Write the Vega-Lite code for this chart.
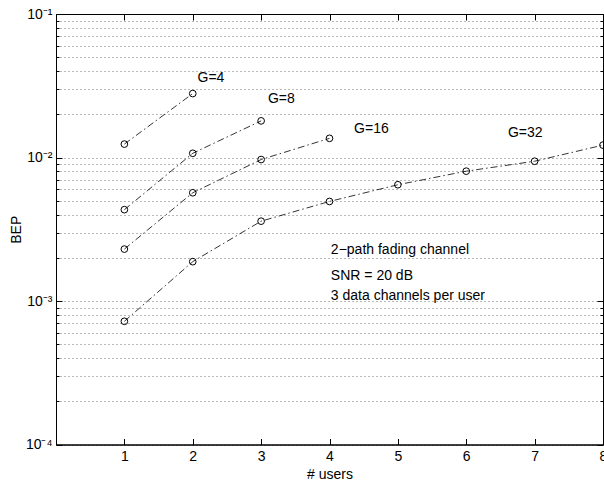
{
  "$schema": "https://vega.github.io/schema/vega-lite/v6.json",
  "width": 547,
  "height": 430.5,
  "autosize": "none",
  "padding": {"left": 56, "top": 14, "right": 1, "bottom": 39.5},
  "background": "white",
  "config": {
    "font": "Liberation Sans",
    "view": {"stroke": "black", "strokeWidth": 1},
    "axis": {
      "domainColor": "black",
      "tickColor": "black",
      "labelColor": "black",
      "titleColor": "black",
      "labelFont": "Liberation Sans",
      "titleFont": "Liberation Sans",
      "labelFontSize": 14,
      "titleFontSize": 14,
      "titleFontWeight": "normal",
      "ticks": true,
      "tickWidth": 1
    }
  },
  "datasets": {
    "curves": [
      {"G": "4", "users": 1, "BEP": 0.0124},
      {"G": "4", "users": 2, "BEP": 0.0279},
      {"G": "8", "users": 1, "BEP": 0.00433},
      {"G": "8", "users": 2, "BEP": 0.0107},
      {"G": "8", "users": 3, "BEP": 0.0180},
      {"G": "16", "users": 1, "BEP": 0.0023},
      {"G": "16", "users": 2, "BEP": 0.00568},
      {"G": "16", "users": 3, "BEP": 0.00968},
      {"G": "16", "users": 4, "BEP": 0.0136},
      {"G": "32", "users": 1, "BEP": 0.000722},
      {"G": "32", "users": 2, "BEP": 0.00188},
      {"G": "32", "users": 3, "BEP": 0.0036},
      {"G": "32", "users": 4, "BEP": 0.00494},
      {"G": "32", "users": 5, "BEP": 0.00646},
      {"G": "32", "users": 6, "BEP": 0.00803},
      {"G": "32", "users": 7, "BEP": 0.00942},
      {"G": "32", "users": 8, "BEP": 0.0122}
    ],
    "labels": [
      {"text": "G=4", "x": 2.07, "y": 0.036},
      {"text": "G=8", "x": 3.1, "y": 0.0254},
      {"text": "G=16", "x": 4.36, "y": 0.0159},
      {"text": "G=32", "x": 6.61, "y": 0.0147},
      {"text": "2−path fading channel", "x": 4.02, "y": 0.00225},
      {"text": "SNR = 20 dB", "x": 4.02, "y": 0.00149},
      {"text": "3 data channels per user", "x": 4.02, "y": 0.00108}
    ]
  },
  "layer": [
    {
      "layer": [
        {
          "data": {"name": "curves"},
          "mark": {"type": "line", "color": "black", "strokeWidth": 0.8, "strokeDash": [7, 3, 1.5, 3]},
          "encoding": {
            "x": {
              "field": "users", "type": "quantitative",
              "scale": {"domain": [0, 8], "nice": false, "zero": false},
              "axis": {
                "title": "# users",
                "values": [1, 2, 3, 4, 5, 6, 7, 8],
                "format": "d",
                "grid": false,
                "tickSize": -6,
                "labelPadding": 11,
                "labelFlush": false,
                "titlePadding": 4
              }
            },
            "y": {
              "field": "BEP", "type": "quantitative",
              "scale": {"type": "log", "domain": [0.0001, 0.1], "nice": false},
              "axis": {
                "title": "BEP",
                "titlePadding": 2,
                "values": [0.0001, 0.0002, 0.0003, 0.0004, 0.0005, 0.0006, 0.0007, 0.0008, 0.0009, 0.001, 0.002, 0.003, 0.004, 0.005, 0.006, 0.007, 0.008, 0.009, 0.01, 0.02, 0.03, 0.04, 0.05, 0.06, 0.07, 0.08, 0.09, 0.1],
                "labelExpr": "datum.value == 0.1 ? '10⁻¹' : datum.value == 0.01 ? '10⁻²' : datum.value == 0.001 ? '10⁻³' : datum.value == 0.0001 ? '10⁻⁴' : ''",
                "tickSize": {"condition": {"test": "datum.value == 0.1 || datum.value == 0.01 || datum.value == 0.001 || datum.value == 0.0001", "value": -6}, "value": -3},
                "labelPadding": 10,
                "labelFlush": false,
                "grid": true,
                "gridDash": [1, 3],
                "gridColor": "#000000",
                "gridOpacity": 0.55,
                "gridWidth": 1
              }
            },
            "detail": {"field": "G"}
          }
        },
        {
          "data": {"name": "curves"},
          "mark": {"type": "point", "shape": "circle", "filled": false, "color": "black", "strokeWidth": 1, "size": 45, "opacity": 1},
          "encoding": {
            "x": {"field": "users", "type": "quantitative"},
            "y": {"field": "BEP", "type": "quantitative"}
          }
        },
        {
          "data": {"name": "labels"},
          "mark": {"type": "text", "align": "left", "baseline": "middle", "font": "Liberation Sans", "fontSize": 14, "color": "black"},
          "encoding": {
            "x": {"field": "x", "type": "quantitative"},
            "y": {"field": "y", "type": "quantitative"},
            "text": {"field": "text"}
          }
        }
      ]
    },
    {
      "data": {"name": "curves"},
      "mark": {"type": "point", "opacity": 0},
      "encoding": {
        "x": {
          "field": "users", "type": "quantitative",
          "axis": {"orient": "top", "values": [1, 2, 3, 4, 5, 6, 7, 8], "labels": false, "title": null, "grid": false, "tickSize": -6, "domain": false}
        },
        "y": {
          "field": "BEP", "type": "quantitative",
          "axis": {
            "orient": "right",
            "values": [0.0001, 0.0002, 0.0003, 0.0004, 0.0005, 0.0006, 0.0007, 0.0008, 0.0009, 0.001, 0.002, 0.003, 0.004, 0.005, 0.006, 0.007, 0.008, 0.009, 0.01, 0.02, 0.03, 0.04, 0.05, 0.06, 0.07, 0.08, 0.09, 0.1],
            "labels": false, "title": null, "grid": false, "domain": false,
            "tickSize": {"condition": {"test": "datum.value == 0.1 || datum.value == 0.01 || datum.value == 0.001 || datum.value == 0.0001", "value": -6}, "value": -3}
          }
        }
      }
    }
  ],
  "resolve": {"axis": {"x": "independent", "y": "independent"}}
}
